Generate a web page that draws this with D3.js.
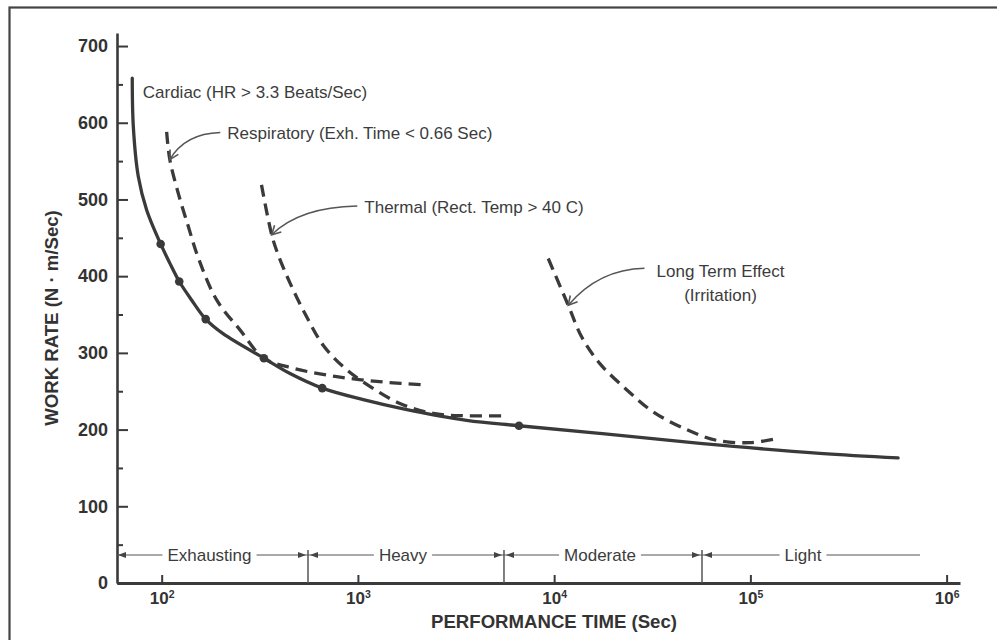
<!DOCTYPE html>
<html><head><meta charset="utf-8">
<script src="https://cdn.jsdelivr.net/npm/d3@7"></script>
<style>
body{margin:0;background:#fff;}
svg{display:block;font-family:"Liberation Sans",Arial,Helvetica,sans-serif;}
</style>
</head><body>
<svg id="chart" width="997" height="640"></svg>
<script>
// ---------- data ----------
const cardiacTime = [70.8, 71.7, 76, 83.9, 98.8, 110, 122.9, 142, 167.6, 205.5, 332, 451, 658, 1065, 1703, 3580, 6620, 17100, 55400, 226000, 566000];
const cardiacRate = [658, 595, 530, 486, 442, 417, 393, 369, 344, 325, 293, 273, 254, 239, 227, 212, 205, 195, 182, 169, 163];
const cardiacMarkTime = [98.8, 122.9, 167.6, 332, 658, 6620];
const cardiacMarkRate = [442, 393, 344, 293, 254, 205];
const respTime = [106, 110, 121.5, 136.6, 153.6, 190.6, 250.6, 332, 468, 780, 1346, 2240];
const respRate = [588, 552, 508, 465, 424, 369, 330, 293, 280, 269, 262, 258];
const thermalTime = [322.6, 363.6, 392, 451, 548, 665, 841, 1066, 1637, 2422, 3580, 5820];
const thermalRate = [519, 454, 428, 391, 347, 310, 282, 262, 234, 221, 218, 218];
const longTime = [9330, 11800, 13800, 17100, 23400, 32000, 47300, 67300, 99600, 136000];
const longRate = [423, 362, 321, 286, 252, 223, 200, 186, 183, 188];
const yTicks = [0, 100, 200, 300, 400, 500, 600, 700];
const yMinorTicks = [50, 150, 250, 350, 450, 550, 650];
const xTicks = [1e2, 1e3, 1e4, 1e5, 1e6];
const xTickExponents = ["2", "3", "4", "5", "6"];
const bandNames = ["Exhausting", "Heavy", "Moderate", "Light"];
const bandEdges = [59.2, 556.7, 5551, 56680, 731800];
const cardiacLabel = "Cardiac (HR > 3.3 Beats/Sec)";
const respLabel = "Respiratory (Exh. Time < 0.66 Sec)";
const thermalLabel = "Thermal (Rect. Temp > 40 C)";
const longLabel = ["Long Term Effect", "(Irritation)"];
const xTitle = "PERFORMANCE TIME (Sec)";
const yTitle = "WORK RATE (N \u00B7 m/Sec)";

// ---------- setup ----------
const svg = d3.select("#chart");
const ink = "#3a3a3a";
const x = d3.scaleLog().domain([59.2, 1.17e6]).range([117, 960]);
const y = d3.scaleLinear().domain([0, 717]).range([583, 33]);

// frame
svg.append("rect").attr("x", 9.5).attr("y", 7.5).attr("width", 1100).attr("height", 800)
  .attr("fill", "none").attr("stroke", "#444").attr("stroke-width", 2.2);

// y axis
const yAxis = svg.append("g").attr("transform", "translate(117,0)")
  .call(d3.axisLeft(y).tickValues(yTicks).tickSizeInner(-11).tickSizeOuter(0).tickPadding(9).tickFormat(d3.format("d")));
yAxis.select(".domain").attr("stroke", ink).attr("stroke-width", 2.6);
yAxis.selectAll(".tick line").attr("stroke", ink).attr("stroke-width", 2);
yAxis.selectAll(".tick text").attr("fill", "#333").style("font-size", "18px").style("font-weight", "bold")
  .style("font-family", "'Liberation Sans', Arial, sans-serif");
const yMinor = svg.append("g").attr("transform", "translate(117,0)")
  .call(d3.axisLeft(y).tickValues(yMinorTicks).tickSizeInner(-6).tickSizeOuter(0).tickFormat(""));
yMinor.select(".domain").remove();
yMinor.selectAll(".tick line").attr("stroke", ink).attr("stroke-width", 2);

// x axis
const xAxis = svg.append("g").attr("transform", "translate(0,583)")
  .call(d3.axisBottom(x).tickValues(xTicks).tickSizeInner(-8).tickSizeOuter(0).tickFormat(""));
xAxis.select(".domain").attr("stroke", ink).attr("stroke-width", 3);
xAxis.selectAll(".tick line").attr("stroke", ink).attr("stroke-width", 2);
xAxis.selectAll(".tick").each(function(d, i) {
  const t = d3.select(this).append("text").attr("y", 20.5).attr("text-anchor", "middle")
    .attr("fill", "#333").style("font-size", "17px").style("font-weight", "bold")
    .style("font-family", "'Liberation Sans', Arial, sans-serif");
  t.append("tspan").text("10");
  t.append("tspan").attr("dy", -6).style("font-size", "10.5px").text(xTickExponents[i]);
});

// axis titles
svg.append("text").attr("x", 554).attr("y", 628).attr("text-anchor", "middle")
  .attr("fill", "#333").style("font-size", "18.6px").style("font-weight", "bold").text(xTitle);
svg.append("text").attr("transform", "translate(58,318) rotate(-90)").attr("text-anchor", "middle")
  .attr("fill", "#333").style("font-size", "18.6px").style("font-weight", "bold").text(yTitle);

// ---------- intensity bands ----------
const bandY = 555;
const bandG = svg.append("g");
function arrowHead(g, px, dir) {
  g.append("path").attr("d", `M${px},${bandY} L${px - dir * 8},${bandY - 3} L${px - dir * 8},${bandY + 3} Z`)
    .attr("fill", "#444");
}
bandNames.forEach((name, i) => {
  const x0 = x(bandEdges[i]), x1 = x(bandEdges[i + 1]);
  const cx = (x0 + x1) / 2 - (i === 3 ? 8 : 3);
  const t = bandG.append("text").attr("x", cx).attr("y", bandY + 6).attr("text-anchor", "middle")
    .attr("fill", "#3c3c3c").style("font-size", "17px").text(name);
  const w = t.node().getComputedTextLength();
  bandG.append("line").attr("x1", x0).attr("x2", cx - w / 2 - 5).attr("y1", bandY).attr("y2", bandY)
    .attr("stroke", "#555").attr("stroke-width", 1.2);
  bandG.append("line").attr("x1", cx + w / 2 + 5).attr("x2", x1).attr("y1", bandY).attr("y2", bandY)
    .attr("stroke", "#555").attr("stroke-width", 1.2);
  arrowHead(bandG, x0 + (i === 0 ? 1 : 2), -1);
  if (i < 3) arrowHead(bandG, x1 - 2, 1);
  if (i > 0) bandG.append("line").attr("x1", x0).attr("x2", x0).attr("y1", 550).attr("y2", 583)
    .attr("stroke", "#555").attr("stroke-width", 1.5);
});

// ---------- curves ----------
const line = d3.line().x(d => x(d[0])).y(d => y(d[1])).curve(d3.curveCatmullRom.alpha(0.5));
const zip = (a, b) => a.map((v, i) => [v, b[i]]);
svg.append("path").datum(zip(cardiacTime, cardiacRate)).attr("d", line)
  .attr("fill", "none").attr("stroke", ink).attr("stroke-width", 3.3).attr("stroke-linecap", "round");
[[respTime, respRate], [thermalTime, thermalRate], [longTime, longRate]].forEach(([t, r]) => {
  svg.append("path").datum(zip(t, r)).attr("d", line)
    .attr("fill", "none").attr("stroke", ink).attr("stroke-width", 3.3)
    .attr("stroke-dasharray", "12,7");
});
svg.selectAll("circle.mark").data(zip(cardiacMarkTime, cardiacMarkRate)).join("circle")
  .attr("class", "mark").attr("cx", d => x(d[0])).attr("cy", d => y(d[1])).attr("r", 4.3).attr("fill", ink);

// ---------- annotations ----------
const annG = svg.append("g");
function label(tx, wy, text, anchor) {
  return annG.append("text").attr("x", x(tx)).attr("y", y(wy)).attr("text-anchor", anchor || "start")
    .attr("fill", "#3c3c3c").style("font-size", "17px").text(text);
}
function curvedArrow(sx, sy, tipT, tipW, frac) {
  const tx = x(tipT), ty = y(tipW);
  const cx = tx + frac * (sx - tx), cy = sy + 1;
  annG.append("path").attr("d", `M${sx},${sy} Q${cx},${cy} ${tx},${ty}`)
    .attr("fill", "none").attr("stroke", "#555").attr("stroke-width", 1.4);
  const ang = Math.atan2(ty - cy, tx - cx);
  const L = 10, spread = 0.5;
  const a1 = ang + Math.PI - spread, a2 = ang + Math.PI + spread;
  annG.append("path").attr("d",
    `M${tx + L * Math.cos(a1)},${ty + L * Math.sin(a1)} L${tx},${ty} L${tx + L * Math.cos(a2)},${ty + L * Math.sin(a2)}`)
    .attr("fill", "none").attr("stroke", "#555").attr("stroke-width", 1.6);
}
label(80.1, 632.3, cardiacLabel);
label(216, 578.2, respLabel);
curvedArrow(x(216) - 7, y(578.2) - 7, 110, 552, 0.3);
label(1078, 482.3, thermalLabel);
curvedArrow(x(1078) - 7, y(482.3) - 7, 363.6, 454, 0.33);
label(70420, 398.5, longLabel[0], "middle");
label(70420, 368, longLabel[1], "middle");
curvedArrow(x(70420) - 76, y(398.5) - 9, 11800, 362, 0.4);
</script>
</body></html>
